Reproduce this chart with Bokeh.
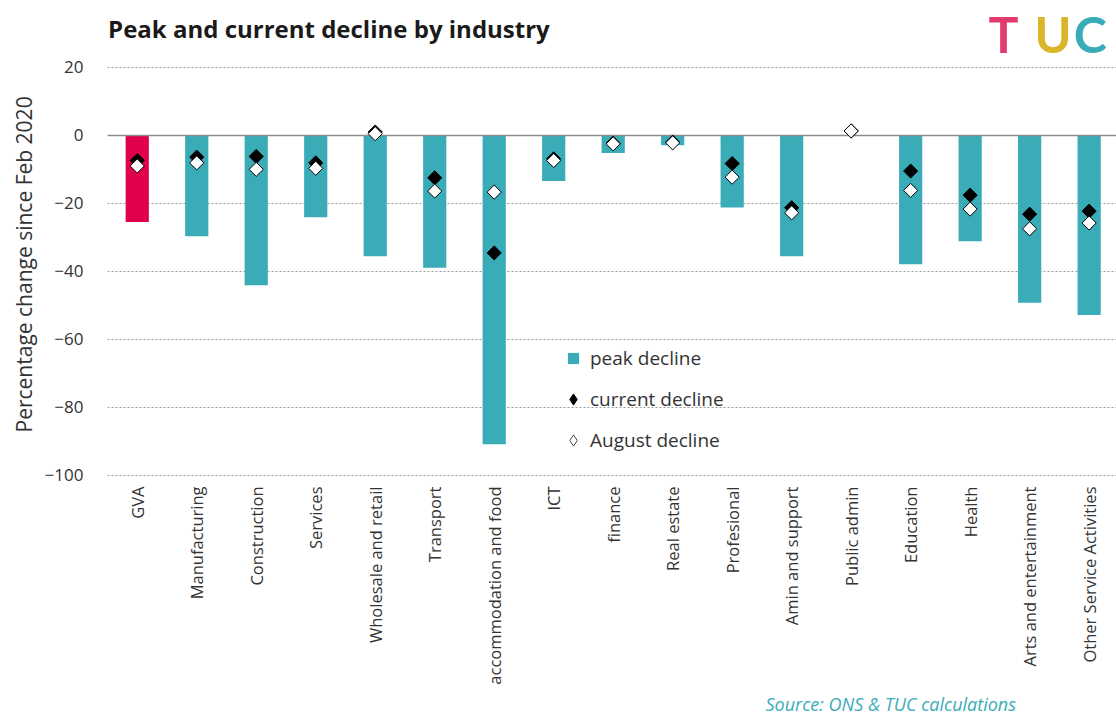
from math import pi
from bokeh.plotting import figure
from bokeh.models import (Range1d, FixedTicker, ColumnDataSource, Legend,
                          LegendItem, Title)
from bokeh.core.properties import value
from bokeh.embed import file_html
from bokeh.resources import INLINE

categories = ["GVA", "Manufacturing", "Construction", "Services",
              "Wholesale and retail", "Transport", "accommodation and food",
              "ICT", "finance", "Real estate", "Profesional",
              "Amin and support", "Public admin", "Education", "Health",
              "Arts and entertainment", "Other Service Activities"]
peak_decline = [-25.5, -29.7, -44.1, -24.1, -35.6, -39.0, -90.9, -13.4,
                -5.2, -2.9, -21.2, -35.6, 0.0, -37.9, -31.2, -49.3, -52.9]
current_decline = [-7.4, -6.4, -6.2, -8.1, 1.0, -12.5, -34.6, -6.9,
                   -2.3, -2.0, -8.3, -21.3, 1.3, -10.5, -17.6, -23.2, -22.3]
august_decline = [-9.0, -8.1, -10.0, -9.7, 0.5, -16.4, -16.7, -7.4,
                  -2.5, -2.2, -12.3, -22.8, 1.3, -16.2, -21.7, -27.5, -25.8]
bar_colors = ["#E0004D"] + ["#3AACB8"] * 16
y_ticks = [20, 0, -20, -40, -60, -80, -100]

title_text = ["Peak and current decline by industry"]
logo_letters = ["T", "U", "C"]
logo_colors = ["#E23C6E", "#D9B52A", "#39ABB9"]
source_text = "Source: ONS & TUC calculations"
y_label = "Percentage change since Feb 2020"

FONT = "Open Sans"
TXT = "#333333"

xs = list(range(len(categories)))
src = ColumnDataSource(dict(x=xs, peak=peak_decline, cur=current_decline,
                            aug=august_decline, color=bar_colors))

p = figure(width=1116, height=724, output_backend="svg", toolbar_location=None,
           title=None,
           x_range=Range1d(-0.5, 16.46), y_range=Range1d(-101, 39.7),
           min_border_left=107, min_border_right=0, min_border_top=0,
           min_border_bottom=246)
p.outline_line_color = None

bars = p.vbar(x="x", top=0, bottom="peak", width=0.39, fill_color="color",
              line_color=None, source=src)
p.hspan(y=[0], line_color="#8c8c8c", line_width=1.5)

# legend swatches (drawn hidden beneath the markers; legend ignores angle)
lg_peak = p.scatter(x="x", y="cur", marker="square", size=4,
                    fill_color="#3AACB8", line_color=None, source=src)
lg_cur = p.scatter(x="x", y="cur", marker="diamond", size=5,
                   fill_color="black", line_color="black", source=src)
lg_aug = p.scatter(x="x", y="aug", marker="diamond", size=5,
                   fill_color="white", line_color="#444444", source=src)

cur = p.scatter(x="x", y="cur", marker="square", angle=pi / 4, size=10,
                fill_color="black", line_color="black", source=src)
aug = p.scatter(x="x", y="aug", marker="square", angle=pi / 4, size=10,
                fill_color="white", line_color="black", line_width=1,
                source=src)

# title and logo (inside the frame area above the 20 gridline)
p.text(x=[-0.49], y=[31.5], text=title_text, text_font=value(FONT),
       text_font_size="24px", text_font_style="bold", text_color="#1a1a1a",
       text_baseline="middle", text_align="left")
p.text(x=[14.31, 15.08, 15.74], y=[29.8, 29.8, 29.8], text=logo_letters,
       text_font=value("Lato"), text_font_size="50px",
       text_font_style="bold", text_color=logo_colors,
       text_baseline="middle", text_align="left")

xa = p.xaxis[0]
xa.ticker = FixedTicker(ticks=xs)
xa.major_label_overrides = {i: c for i, c in enumerate(categories)}
xa.major_label_orientation = pi / 2
xa.axis_line_color = None
xa.major_tick_line_color = None
xa.minor_tick_line_color = None
xa.major_tick_out = 0
xa.major_tick_in = 0
xa.major_label_text_font = FONT
xa.major_label_text_font_size = "16.5px"
xa.major_label_text_color = TXT
xa.major_label_standoff = 8

ya = p.yaxis[0]
ya.ticker = FixedTicker(ticks=y_ticks)
ya.axis_line_color = None
ya.major_tick_line_color = None
ya.minor_tick_line_color = None
ya.major_tick_out = 0
ya.major_tick_in = 0
ya.major_label_text_font = FONT
ya.major_label_text_font_size = "17px"
ya.major_label_text_color = TXT
ya.major_label_standoff = 24

ylab = Title(text=y_label, align="left", offset=46, text_font=FONT,
             text_font_size="21px", text_font_style="normal",
             text_color=TXT, standoff=8)
p.add_layout(ylab, "left")

p.xgrid.grid_line_color = None
p.ygrid.ticker = FixedTicker(ticks=y_ticks)
p.ygrid.grid_line_color = "#9a9a9a"
p.ygrid.grid_line_dash = "2 2"
p.ygrid.grid_line_width = 1.2

legend = Legend(items=[
    LegendItem(label="peak decline", renderers=[lg_peak]),
    LegendItem(label="current decline", renderers=[lg_cur]),
    LegendItem(label="August decline", renderers=[lg_aug]),
], location=(452, 24))
legend.background_fill_alpha = 0
legend.border_line_color = None
legend.padding = 0
legend.margin = 0
legend.spacing = 13
legend.label_height = 20
legend.glyph_height = 28
legend.glyph_width = 28
legend.label_standoff = 3
legend.label_text_font = FONT
legend.label_text_font_size = "19px"
legend.label_text_color = TXT
p.add_layout(legend, "center")

src_title = Title(text=source_text, align="left", offset=658,
                  text_font=FONT, text_font_size="18px",
                  text_font_style="italic", text_color="#3AACB8", standoff=5)
p.add_layout(src_title, "below")

open("out.html", "w").write(file_html(p, INLINE))
